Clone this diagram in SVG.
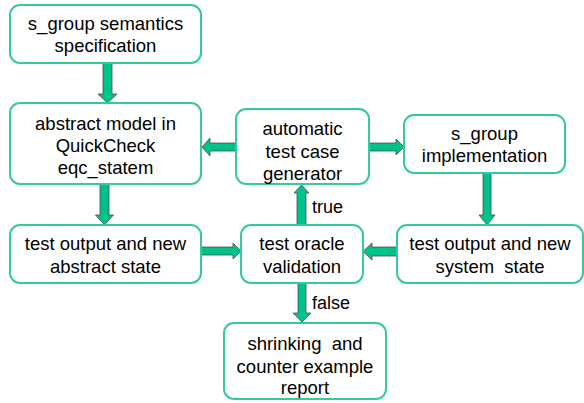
<svg xmlns="http://www.w3.org/2000/svg" width="584" height="403" viewBox="0 0 584 403">
<style>
.box{fill:#ffffff;stroke:#33CC99;stroke-width:2}
.t{font-family:"Liberation Sans",Arial,sans-serif;font-size:18.5px;fill:#000;text-anchor:middle;white-space:pre}
.lbl{font-family:"Liberation Sans",Arial,sans-serif;font-size:18px;fill:#000;white-space:pre}
.arr{fill:#00C28B;stroke:#4d4d4d;stroke-width:0.8}
</style>
<rect width="584" height="403" fill="#ffffff"/>
<g id="connectors">
<polygon class="arr" points="103,63 112,63 112,94 117,94 107.5,103 98,94 103,94"/>
<polygon class="arr" points="100,184 109,184 109,215 113.5,215 104.5,225 95.5,215 100,215"/>
<polygon class="arr" points="236,143 210,143 210,138 202,147 210,156 210,151 236,151"/>
<polygon class="arr" points="369,143 396,143 396,139 404,147 396,155 396,151 369,151"/>
<polygon class="arr" points="483,173 491,173 491,215 495,215 487,225 479,215 483,215"/>
<polygon class="arr" points="201,247 233,247 233,243 241,251 233,259 233,255 201,255"/>
<polygon class="arr" points="397,247 372,247 372,243 363,251.5 372,260 372,256 397,256"/>
<polygon class="arr" points="297,225 306,225 306,193 309,193 301.5,185 294,193 297,193"/>
<polygon class="arr" points="298,283 306,283 306,313 311,313 302,322 293,313 298,313"/>
<text class="lbl" x="312" y="213">true</text>
<text class="lbl" x="312" y="309">false</text>
</g>
<g id="spec">
<rect class="box" x="10" y="5" width="191" height="58" rx="10"/>
<text class="t" x="105.5" y="29.5">s_group semantics</text>
<text class="t" x="105.5" y="51.5">specification</text>
</g>
<g id="model">
<rect class="box" x="10" y="103" width="191" height="81" rx="10"/>
<text class="t" x="105.5" y="129.5">abstract model in</text>
<text class="t" x="105.5" y="151.5">QuickCheck</text>
<text class="t" x="105.5" y="173.5">eqc_statem</text>
</g>
<g id="generator">
<rect class="box" x="236" y="109" width="133" height="75" rx="10"/>
<text class="t" x="302.5" y="134.5">automatic</text>
<text class="t" x="302.5" y="157.5">test case</text>
<text class="t" x="302.5" y="179.5">generator</text>
</g>
<g id="impl">
<rect class="box" x="404" y="115" width="161" height="58" rx="10"/>
<text class="t" x="484.5" y="139.5">s_group</text>
<text class="t" x="484.5" y="161.5">implementation</text>
</g>
<g id="abs-out">
<rect class="box" x="10" y="225" width="191" height="58" rx="10"/>
<text class="t" x="105.5" y="249.5">test output and new</text>
<text class="t" x="105.5" y="272.5">abstract state</text>
</g>
<g id="oracle">
<rect class="box" x="241" y="225" width="122" height="58" rx="10"/>
<text class="t" x="302" y="249.5">test oracle</text>
<text class="t" x="302" y="272.5">validation</text>
</g>
<g id="sys-out">
<rect class="box" x="397" y="225" width="186" height="58" rx="10"/>
<text class="t" x="490" y="249.5">test output and new</text>
<text class="t" x="490" y="272.5">system  state</text>
</g>
<g id="shrink">
<rect class="box" x="224" y="323" width="162" height="76" rx="10"/>
<text class="t" x="305" y="349.5">shrinking  and</text>
<text class="t" x="305" y="372.5">counter example</text>
<text class="t" x="305" y="393.5">report</text>
</g>
</svg>
